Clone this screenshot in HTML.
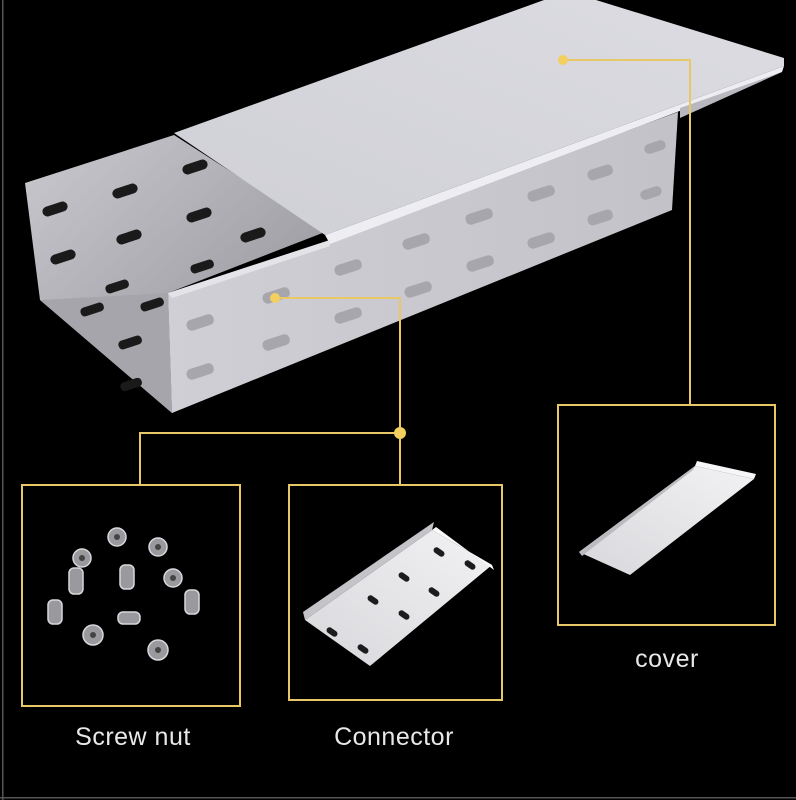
<!DOCTYPE html>
<html><head><meta charset="utf-8"><style>
html,body{margin:0;padding:0;background:#000;}
svg{display:block}
text{font-family:"Liberation Sans",sans-serif;fill:#e8e8e8;}
</style></head><body>
<svg width="796" height="800" viewBox="0 0 796 800" xmlns="http://www.w3.org/2000/svg">
<defs>
<linearGradient id="gIn" x1="0" y1="0" x2="1" y2="1"><stop offset="0" stop-color="#c9c9cf"/><stop offset="1" stop-color="#8e8e94"/></linearGradient>
<linearGradient id="gFront" x1="0" y1="0" x2="1" y2="0"><stop offset="0" stop-color="#cfcfd5"/><stop offset="1" stop-color="#c2c2c8"/></linearGradient>
<linearGradient id="gCover" x1="0" y1="1" x2="1" y2="0"><stop offset="0" stop-color="#cfcfd6"/><stop offset="1" stop-color="#dcdce2"/></linearGradient>
<linearGradient id="gSmall" x1="0" y1="1" x2="1" y2="0"><stop offset="0" stop-color="#d8d8dc"/><stop offset="1" stop-color="#f2f2f4"/></linearGradient>
</defs>
<rect width="796" height="800" fill="#000"/>
<rect x="2" y="0" width="1.5" height="800" fill="#555"/>
<rect x="0" y="797" width="796" height="1.5" fill="#555"/>

<polygon points="25,183 174,135 325,232 168,293 172,413 40,300" fill="url(#gIn)"/>
<polygon points="40,300 168,293 172,413" fill="#a5a5ab"/>
<g fill="#1a1a1a">
<rect x="42" y="204" width="26" height="10" rx="5" transform="rotate(-18 55 209)"/>
<rect x="112" y="186" width="26" height="10" rx="5" transform="rotate(-18 125 191)"/>
<rect x="182" y="162" width="26" height="10" rx="5" transform="rotate(-18 195 167)"/>
<rect x="50" y="252" width="26" height="10" rx="5" transform="rotate(-18 63 257)"/>
<rect x="116" y="232" width="26" height="10" rx="5" transform="rotate(-18 129 237)"/>
<rect x="186" y="210" width="26" height="10" rx="5" transform="rotate(-18 199 215)"/>
<rect x="240" y="230" width="26" height="10" rx="5" transform="rotate(-18 253 235)"/>
<rect x="105" y="282" width="24" height="9" rx="4" transform="rotate(-18 117 286)"/>
<rect x="80" y="305" width="24" height="9" rx="4" transform="rotate(-18 92 309)"/>
<rect x="140" y="300" width="24" height="9" rx="4" transform="rotate(-18 152 304)"/>
<rect x="118" y="338" width="24" height="9" rx="4" transform="rotate(-18 130 342)"/>
<rect x="120" y="380" width="22" height="9" rx="4" transform="rotate(-18 131 384)"/>
<rect x="190" y="262" width="24" height="9" rx="4" transform="rotate(-18 202 266)"/>
</g>
<polygon points="168,293 330,240 678,112 672,210 172,413" fill="url(#gFront)"/>
<polygon points="168,293 330,240 330,246 172,298" fill="#e4e4e8"/>
<g fill="#a6a6ac">
<rect x="186" y="317" width="28" height="11" rx="5" transform="rotate(-18 200 322)"/>
<rect x="186" y="366" width="28" height="11" rx="5" transform="rotate(-18 200 371)"/>
<rect x="262" y="290" width="28" height="11" rx="5" transform="rotate(-18 276 295)"/>
<rect x="262" y="337" width="28" height="11" rx="5" transform="rotate(-18 276 342)"/>
<rect x="334" y="262" width="28" height="11" rx="5" transform="rotate(-18 348 267)"/>
<rect x="334" y="310" width="28" height="11" rx="5" transform="rotate(-18 348 315)"/>
<rect x="402" y="236" width="28" height="11" rx="5" transform="rotate(-18 416 241)"/>
<rect x="404" y="284" width="28" height="11" rx="5" transform="rotate(-18 418 289)"/>
<rect x="465" y="211" width="28" height="11" rx="5" transform="rotate(-18 479 216)"/>
<rect x="466" y="258" width="28" height="11" rx="5" transform="rotate(-18 480 263)"/>
<rect x="527" y="188" width="28" height="11" rx="5" transform="rotate(-18 541 193)"/>
<rect x="527" y="235" width="28" height="11" rx="5" transform="rotate(-18 541 240)"/>
<rect x="587" y="167" width="26" height="11" rx="5" transform="rotate(-18 600 172)"/>
<rect x="587" y="212" width="26" height="11" rx="5" transform="rotate(-18 600 217)"/>
<rect x="640" y="188" width="22" height="10" rx="5" transform="rotate(-18 651 193)"/>
<rect x="644" y="142" width="22" height="10" rx="5" transform="rotate(-18 655 147)"/>
</g>
<polygon points="174,133 544,0 596,0 784,58 784,66 325,235" fill="url(#gCover)"/>
<polygon points="325,235 784,66 782,72 330,244" fill="#eeeef2"/>
<polygon points="680,108 782,72 680,118" fill="#b8b8be"/>

<g stroke="#e8c766" stroke-width="2" fill="none">
<polyline points="563,60 690,60 690,405"/>
<polyline points="275,298 400,298 400,485"/>
<polyline points="140,485 140,433 400,433"/>
<rect x="22" y="485" width="218" height="221"/>
<rect x="289" y="485" width="213" height="215"/>
<rect x="558" y="405" width="217" height="220"/>
</g>
<g fill="#f2cf5e">
<circle cx="563" cy="60" r="5"/>
<circle cx="275" cy="298" r="5"/>
<circle cx="400" cy="433" r="6"/>
</g>

<g fill="#9a9a9e" stroke="#d8d8dc" stroke-width="1.5">
<circle cx="117" cy="537" r="9"/><circle cx="158" cy="547" r="9"/>
<circle cx="82" cy="558" r="9"/><circle cx="173" cy="578" r="9"/>
<circle cx="93" cy="635" r="10"/><circle cx="158" cy="650" r="10"/>
<rect x="69" y="568" width="14" height="26" rx="5"/>
<rect x="185" y="590" width="14" height="24" rx="5"/>
<rect x="48" y="600" width="14" height="24" rx="5"/>
<rect x="120" y="565" width="14" height="24" rx="5"/>
<rect x="118" y="612" width="22" height="12" rx="5"/>
</g>
<g fill="#444"><circle cx="117" cy="537" r="3"/><circle cx="158" cy="547" r="3"/><circle cx="82" cy="558" r="3"/><circle cx="173" cy="578" r="3"/><circle cx="93" cy="635" r="3"/><circle cx="158" cy="650" r="3"/></g>

<!-- connector piece -->
<polygon points="305,620 432,530 492,565 370,666" fill="url(#gSmall)"/>
<polygon points="305,620 432,530 434,522 303,612" fill="#c4c4c8"/>
<polygon points="432,530 492,565 494,570 436,527" fill="#fafafa"/>
<g fill="#1c1c1c">
<rect x="326" y="629" width="12" height="6" rx="3" transform="rotate(35 332 632)"/>
<rect x="357" y="646" width="12" height="6" rx="3" transform="rotate(35 363 649)"/>
<rect x="367" y="597" width="12" height="6" rx="3" transform="rotate(35 373 600)"/>
<rect x="398" y="612" width="12" height="6" rx="3" transform="rotate(35 404 615)"/>
<rect x="398" y="574" width="12" height="6" rx="3" transform="rotate(35 404 577)"/>
<rect x="428" y="589" width="12" height="6" rx="3" transform="rotate(35 434 592)"/>
<rect x="433" y="549" width="12" height="6" rx="3" transform="rotate(35 439 552)"/>
<rect x="464" y="562" width="12" height="6" rx="3" transform="rotate(35 470 565)"/>
</g>

<!-- cover piece -->
<polygon points="579,552 695,466 754,479 630,575" fill="url(#gSmall)"/>
<polygon points="695,466 754,479 756,474 697,461" fill="#f6f6f8"/>
<polygon points="579,552 695,466 693,470 582,556" fill="#bcbcc0"/>

<text x="133" y="745" font-size="25" text-anchor="middle" letter-spacing="0.5">Screw nut</text>
<text x="394" y="745" font-size="25" text-anchor="middle" letter-spacing="0.5">Connector</text>
<text x="667" y="667" font-size="25" text-anchor="middle" letter-spacing="0.5">cover</text>
</svg>
</body></html>
